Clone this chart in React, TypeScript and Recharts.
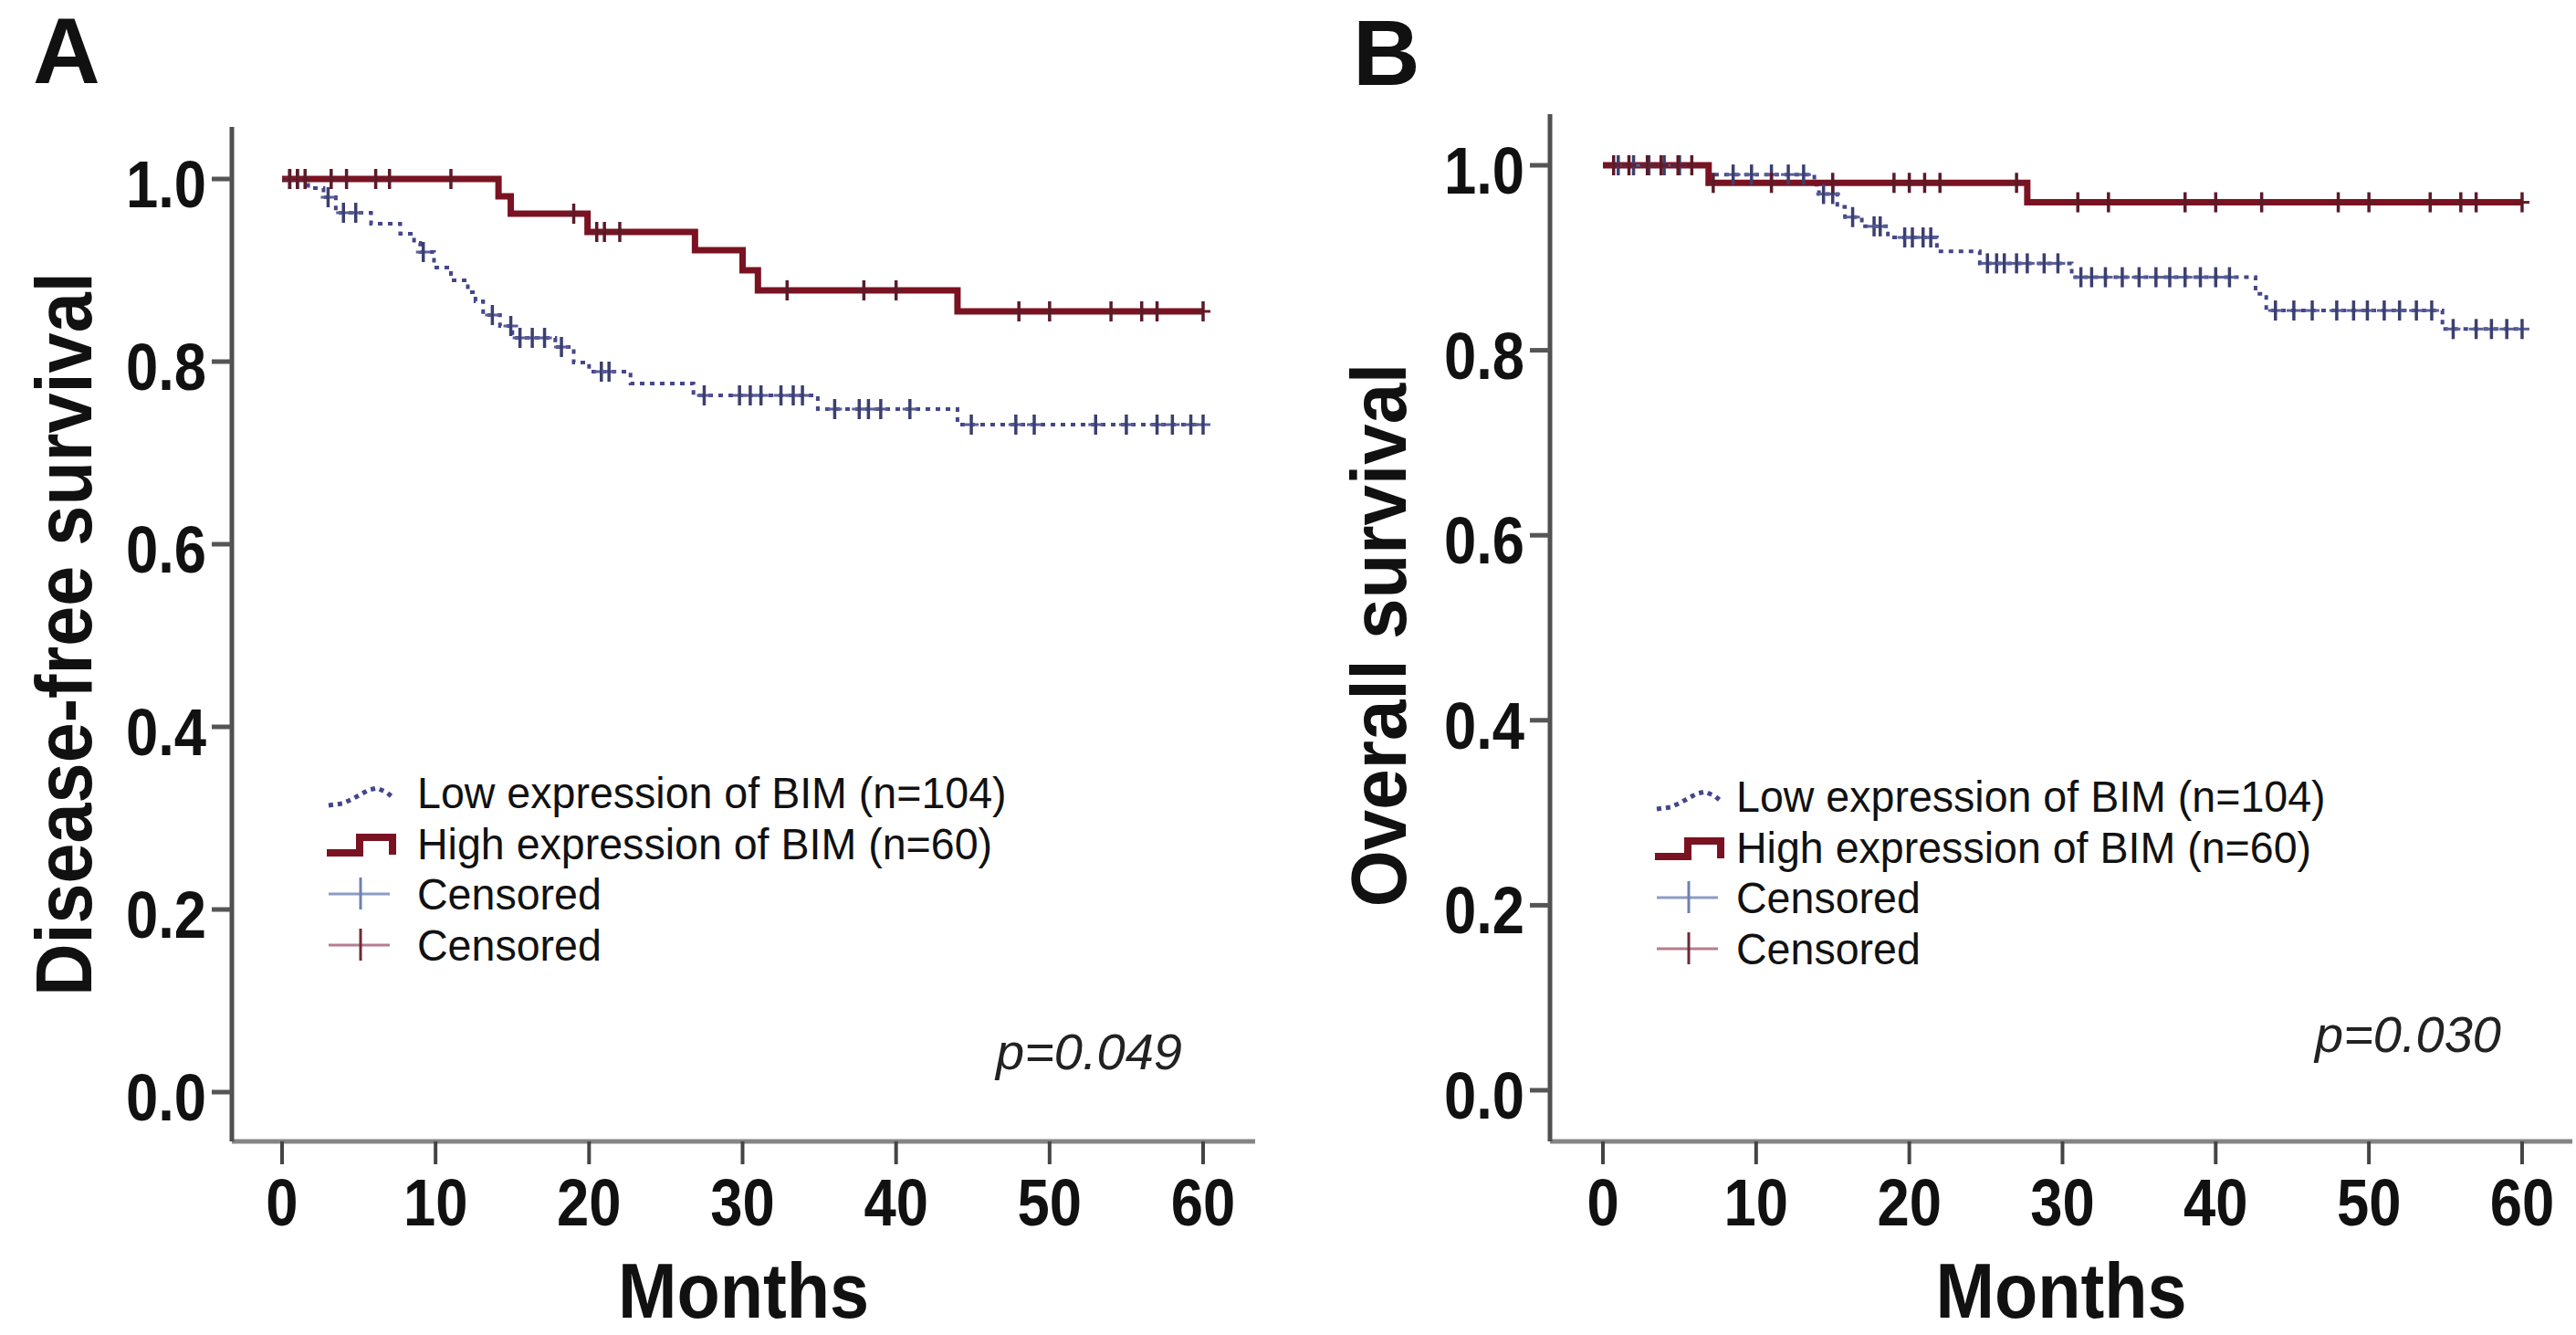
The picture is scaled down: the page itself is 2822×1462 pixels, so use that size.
import React from "react";
import { ComposedChart, Legend, Line, Scatter, XAxis, YAxis } from "recharts";

// [month, survival]
const dfsLow: [number, number][] = [
  [0, 1], [1.7, 0.99], [2.7, 0.98], [3.5, 0.963], [5.8, 0.951], [7.7, 0.94], [8.6, 0.93], [9.0, 0.92],
  [9.9, 0.903], [11.0, 0.889], [12.1, 0.876], [12.6, 0.866], [13.1, 0.851], [14.2, 0.839], [15.0, 0.826],
  [17.8, 0.816], [19.0, 0.799], [20.0, 0.789], [22.7, 0.776], [26.8, 0.763], [34.9, 0.748], [44.0, 0.731],
  [60, 0.731],
];
const dfsHigh: [number, number][] = [
  [0, 1], [14.1, 0.981], [14.9, 0.962], [19.9, 0.942], [26.9, 0.922], [30.0, 0.9], [31.0, 0.878],
  [44.0, 0.855], [60, 0.855],
];
const dfsLowCensored: [number, number][] = [
  [0.5, 1], [1, 1], [3.0, 0.98], [4.0, 0.963], [4.8, 0.963], [9.2, 0.92], [13.7, 0.851], [14.9, 0.839],
  [15.5, 0.826], [16.3, 0.826], [17.1, 0.826], [18.2, 0.816], [20.8, 0.789], [21.3, 0.789], [27.5, 0.763],
  [29.8, 0.763], [30.5, 0.763], [31.2, 0.763], [32.5, 0.763], [33.3, 0.763], [33.9, 0.763], [36, 0.748],
  [37.6, 0.748], [38.2, 0.748], [39, 0.748], [40.9, 0.748], [44.9, 0.731], [47.8, 0.731], [49, 0.731],
  [53, 0.731], [55, 0.731], [57, 0.731], [58, 0.731], [59.2, 0.731], [60, 0.731],
];
const dfsHighCensored: [number, number][] = [
  [0.5, 1], [1, 1], [1.5, 1], [3.2, 1], [4.2, 1], [6.1, 1], [7, 1], [11, 1], [19, 0.962], [20.5, 0.942],
  [21, 0.942], [22, 0.942], [32.9, 0.878], [37.9, 0.878], [40, 0.878], [48, 0.855], [50, 0.855],
  [54, 0.855], [56, 0.855], [57, 0.855], [60, 0.855],
];

const osLow: [number, number][] = [
  [0, 1], [6.9, 0.99], [13.8, 0.979], [14.1, 0.969], [15.3, 0.955], [15.8, 0.944], [16.9, 0.934],
  [18.6, 0.922], [21.8, 0.907], [24.6, 0.894], [30.6, 0.879], [42.6, 0.861], [43.3, 0.843], [54.8, 0.823],
  [60, 0.823],
];
const osHigh: [number, number][] = [[0, 1], [6.9, 0.981], [27.7, 0.96], [60, 0.96]];
const osLowCensored: [number, number][] = [
  [1, 1], [2, 1], [3, 1], [4, 1], [5, 1], [8.5, 0.99], [9.7, 0.99], [11, 0.99], [12.1, 0.99], [13.1, 0.99],
  [14.4, 0.969], [15, 0.969], [16.3, 0.944], [17.7, 0.934], [18.1, 0.934], [19.7, 0.922], [20.2, 0.922],
  [20.9, 0.922], [21.4, 0.922], [25.1, 0.894], [25.7, 0.894], [26.2, 0.894], [27, 0.894], [27.7, 0.894],
  [28.8, 0.894], [29.7, 0.894], [31.2, 0.879], [31.9, 0.879], [32.8, 0.879], [33.9, 0.879], [35, 0.879],
  [36.1, 0.879], [37, 0.879], [38, 0.879], [39, 0.879], [40, 0.879], [40.9, 0.879], [43.9, 0.843],
  [45.1, 0.843], [46.3, 0.843], [47.9, 0.843], [49, 0.843], [49.9, 0.843], [51, 0.843], [52, 0.843],
  [53.1, 0.843], [54.1, 0.843], [55.5, 0.823], [57, 0.823], [58, 0.823], [59, 0.823], [60, 0.823],
];
const osHighCensored: [number, number][] = [
  [0.7, 1], [1.7, 1], [2.9, 1], [3.8, 1], [4.9, 1], [5.8, 1], [7.2, 0.981], [11, 0.981], [15, 0.981],
  [19, 0.981], [20, 0.981], [21, 0.981], [22, 0.981], [27, 0.981], [31, 0.96], [33, 0.96], [38, 0.96],
  [40, 0.96], [43, 0.96], [48, 0.96], [50, 0.96], [54, 0.96], [56, 0.96], [57, 0.96], [60, 0.96],
];

const monthTicks = [0, 10, 20, 30, 40, 50, 60];
const survivalTicks = [0, 0.2, 0.4, 0.6, 0.8, 1.0];
const legendLabels = ["Low expression of BIM (n=104)", "High expression of BIM (n=60)", "Censored", "Censored"];

const FONT = "'Liberation Sans', Arial, Helvetica, sans-serif";
const RED = "#7a1222";
const BLUE = "#45468a";

const toPoints = (rows: [number, number][]) => rows.map(([t, s]) => ({ t, s }));

function MonthTick(props: any) {
  const { x, y, payload } = props;
  return (
    <g transform={`translate(${x},${y})`}>
      <text y={51} textAnchor="middle" transform="scale(0.88,1)" fontFamily={FONT} fontWeight={700} fontSize={72} fill="#111">
        {payload.value}
      </text>
    </g>
  );
}

function SurvivalTick(props: any) {
  const { x, y, payload } = props;
  return (
    <g transform={`translate(${x},${y})`}>
      <text y={31} textAnchor="end" transform="scale(0.88,1)" fontFamily={FONT} fontWeight={700} fontSize={72} fill="#111">
        {Number(payload.value).toFixed(1)}
      </text>
    </g>
  );
}

function censorMark(color: string, crossColor: string) {
  return (p: any) => (
    <g>
      <line x1={p.cx - 8} x2={p.cx + 8} y1={p.cy} y2={p.cy} stroke={crossColor} strokeWidth={3} />
      <line x1={p.cx} x2={p.cx} y1={p.cy - 11} y2={p.cy + 11} stroke={color} strokeWidth={3.5} />
    </g>
  );
}

function legendSymbol(i: number) {
  if (i === 0)
    return (
      <polyline points="2,42 17,40 28,35 37,30 46,25 55,23 66,28 72,33" fill="none" stroke={BLUE} strokeWidth={5} strokeDasharray="5 5" />
    );
  if (i === 1) return <path d="M0,38 H36 V21 H72 V40" fill="none" stroke={RED} strokeWidth={8} />;
  const h = i === 2 ? "#8c9cc4" : "#b57d8c";
  const v = i === 2 ? "#7080aa" : "#6b2a3a";
  return (
    <g>
      <line x1={2} x2={69} y1={28} y2={28} stroke={h} strokeWidth={3} />
      <line x1={37} x2={37} y1={10} y2={45} stroke={v} strokeWidth={3} />
    </g>
  );
}

function KmLegend({ symbolWidth }: { symbolWidth: number }) {
  return (
    <div style={{ fontFamily: FONT, fontSize: 49, color: "#111" }}>
      {legendLabels.map((label, i) => (
        <div key={i} style={{ display: "flex", height: 55.7, alignItems: "center" }}>
          <svg width={symbolWidth} height={56} style={{ flex: "none" }}>
            {legendSymbol(i)}
          </svg>
          <span
            style={{
              display: "inline-block",
              lineHeight: "56px",
              whiteSpace: "nowrap",
              transform: "scaleX(0.95)",
              transformOrigin: "left center",
            }}
          >
            {label}
          </span>
        </div>
      ))}
    </div>
  );
}

type PanelProps = {
  left: number;
  width: number;
  marginTop: number;
  marginRight: number;
  yAxisWidth: number;
  xDomain: [number, number];
  yDomain: [number, number];
  yTitle: string;
  yTitleX: number;
  yTitleDy: number;
  yTitleSize: number;
  yTitleSqueeze: number;
  low: [number, number][];
  high: [number, number][];
  lowCensored: [number, number][];
  highCensored: [number, number][];
  legendLeft: number;
  legendTop: number;
  symbolWidth: number;
};

function SurvivalPanel(p: PanelProps) {
  const yTitle = (lp: any) => {
    const vb = lp.viewBox;
    return (
      <text
        transform={`translate(${vb.x + p.yTitleX},${vb.y + vb.height / 2 + p.yTitleDy}) rotate(-90) scale(${p.yTitleSqueeze},1)`}
        textAnchor="middle"
        fontFamily={FONT}
        fontWeight={700}
        fontSize={p.yTitleSize}
        fill="#111"
      >
        {p.yTitle}
      </text>
    );
  };
  const xTitle = (lp: any) => {
    const vb = lp.viewBox;
    return (
      <text
        transform={`translate(${vb.x + vb.width / 2},${vb.y + 193}) scale(0.9,1)`}
        textAnchor="middle"
        fontFamily={FONT}
        fontWeight={700}
        fontSize={86}
        fill="#111"
      >
        Months
      </text>
    );
  };

  return (
    <div style={{ position: "absolute", left: p.left, top: 0 }}>
      <ComposedChart width={p.width} height={1462} margin={{ top: p.marginTop, right: p.marginRight, bottom: 0, left: 0 }}>
        <XAxis
          xAxisId="top"
          orientation="top"
          type="number"
          domain={p.xDomain}
          height={0}
          tick={false}
          tickLine={false}
          axisLine={{ stroke: "#9a9a9a", strokeWidth: 5 }}
        />
        <YAxis
          yAxisId="right"
          orientation="right"
          type="number"
          domain={p.yDomain}
          width={0}
          tick={false}
          tickLine={false}
          axisLine={{ stroke: "#8c8c8c", strokeWidth: 5 }}
        />
        <XAxis
          dataKey="t"
          type="number"
          domain={p.xDomain}
          ticks={monthTicks}
          interval={0}
          allowDataOverflow
          height={212}
          tickSize={25}
          tickMargin={16}
          tickLine={{ stroke: "#444", strokeWidth: 4 }}
          axisLine={{ stroke: "#858585", strokeWidth: 5 }}
          tick={MonthTick}
          label={xTitle}
        />
        <YAxis
          dataKey="s"
          type="number"
          domain={p.yDomain}
          ticks={survivalTicks}
          interval={0}
          allowDataOverflow
          width={p.yAxisWidth}
          tickSize={22}
          tickMargin={6}
          tickLine={{ stroke: "#555", strokeWidth: 5 }}
          axisLine={{ stroke: "#505050", strokeWidth: 5 }}
          tick={SurvivalTick}
          label={yTitle}
        />
        <Line
          data={toPoints(p.low)}
          dataKey="s"
          type="stepAfter"
          stroke={BLUE}
          strokeWidth={4}
          strokeDasharray="5 6"
          dot={false}
          activeDot={false}
          isAnimationActive={false}
          name={legendLabels[0]}
        />
        <Line
          data={toPoints(p.high)}
          dataKey="s"
          type="stepAfter"
          stroke={RED}
          strokeWidth={7}
          dot={false}
          activeDot={false}
          isAnimationActive={false}
          name={legendLabels[1]}
        />
        <Scatter data={toPoints(p.lowCensored)} dataKey="s" shape={censorMark("#3c3f6e", "#5a5f9a")} isAnimationActive={false} name="Censored low" />
        <Scatter data={toPoints(p.highCensored)} dataKey="s" shape={censorMark("#5c1a28", "#6a1a28")} isAnimationActive={false} name="Censored high" />
        <Legend
          layout="vertical"
          align="center"
          verticalAlign="middle"
          wrapperStyle={{ left: p.legendLeft, top: p.legendTop, width: 900 }}
          content={() => <KmLegend symbolWidth={p.symbolWidth} />}
        />
      </ComposedChart>
    </div>
  );
}

export default function App() {
  return (
    <div style={{ position: "absolute", left: 0, top: 0, width: 2822, height: 1462, background: "#fff" }}>
      <SurvivalPanel
        left={0}
        width={1420}
        marginTop={139}
        marginRight={45}
        yAxisWidth={254}
        xDomain={[-3.27, 63.39]}
        yDomain={[-0.054, 1.057]}
        yTitle="Disease-free survival"
        yTitleX={100}
        yTitleDy={0}
        yTitleSize={88}
        yTitleSqueeze={0.9}
        low={dfsLow}
        high={dfsHigh}
        lowCensored={dfsLowCensored}
        highCensored={dfsHighCensored}
        legendLeft={358}
        legendTop={840}
        symbolWidth={99}
      />
      <SurvivalPanel
        left={1420}
        width={1402}
        marginTop={125}
        marginRight={4}
        yAxisWidth={278}
        xDomain={[-3.456, 63.28]}
        yDomain={[-0.0553, 1.0553]}
        yTitle="Overall survival"
        yTitleX={120}
        yTitleDy={8}
        yTitleSize={86}
        yTitleSqueeze={0.93}
        low={osLow}
        high={osHigh}
        lowCensored={osLowCensored}
        highCensored={osHighCensored}
        legendLeft={393}
        legendTop={844}
        symbolWidth={89}
      />
      <svg width={2822} height={1462} style={{ position: "absolute", left: 0, top: 0, pointerEvents: "none" }}>
        <text x={36} y={91} fontFamily={FONT} fontWeight={700} fontSize={102} fill="#111">A</text>
        <text x={1482} y={93} fontFamily={FONT} fontWeight={700} fontSize={102} fill="#111">B</text>
        <text x={1091} y={1171} fontFamily={FONT} fontStyle="italic" fontSize={56} fill="#222">p=0.049</text>
        <text x={2536} y={1152} fontFamily={FONT} fontStyle="italic" fontSize={56} fill="#222">p=0.030</text>
      </svg>
    </div>
  );
}
